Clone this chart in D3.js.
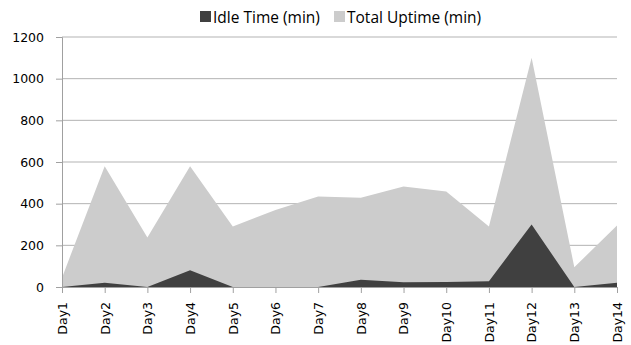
<!DOCTYPE html>
<html>
<head>
<meta charset="utf-8">
<script src="https://cdn.jsdelivr.net/npm/d3@7/dist/d3.min.js"></script>
<style>
  html, body { margin: 0; padding: 0; background: #fff; }
  svg { display: block; }
</style>
</head>
<body>
<svg id="chart" width="631" height="345"></svg>
<script>
// Daily machine data
const days = ["Day1","Day2","Day3","Day4","Day5","Day6","Day7","Day8","Day9","Day10","Day11","Day12","Day13","Day14"];
const totalUptime = [45, 580, 238, 580, 290, 370, 435, 428, 483, 458, 290, 1100, 95, 295];
const idleTime = [0, 20, 0, 80, 0, 0, 0, 35, 23, 24, 28, 300, 0, 20];
const yTicks = [0, 200, 400, 600, 800, 1000, 1200];

const seriesNames = ["Idle Time (min)", "Total Uptime (min)"];
const seriesColors = ["#404040", "#cccccc"];

const svg = d3.select("#chart");
const margin = { left: 62, right: 14, top: 37, bottom: 58 };
const W = 631, H = 345;
const axisFont = "'DejaVu Sans', Verdana, sans-serif";

const x = d3.scalePoint().domain(days).range([margin.left, W - margin.right]);
const y = d3.scaleLinear().domain([0, 1200]).range([H - margin.bottom, margin.top]);

// Horizontal gridlines
svg.append("g")
  .selectAll("line")
  .data(yTicks.filter(d => d > 0))
  .join("line")
  .attr("x1", margin.left).attr("x2", W - margin.right)
  .attr("y1", d => y(d)).attr("y2", d => y(d))
  .attr("stroke", "#b3b3b3").attr("stroke-width", 1);

const area = vals => d3.area()
  .x((d, i) => x(days[i]))
  .y0(y(0))
  .y1(d => y(d))(vals);

// Total uptime behind, idle time in front
svg.append("path").attr("d", area(totalUptime)).attr("fill", seriesColors[1]);
svg.append("path").attr("d", area(idleTime)).attr("fill", seriesColors[0]);

// Y axis
const yAxis = svg.append("g")
  .attr("transform", `translate(${margin.left},0)`)
  .call(d3.axisLeft(y).tickValues(yTicks).tickSize(6).tickPadding(12).tickFormat(d3.format("d")));
yAxis.select(".domain").attr("stroke", "#a0a0a0");
yAxis.selectAll(".tick line").attr("stroke", "#a0a0a0");
yAxis.selectAll("text")
  .attr("font-family", axisFont)
  .attr("font-size", 12.5).attr("fill", "#000");

// X axis
const xAxis = svg.append("g")
  .attr("transform", `translate(0,${y(0)})`)
  .call(d3.axisBottom(x).tickSize(6).tickSizeOuter(0));
xAxis.select(".domain").attr("stroke", "#a0a0a0");
xAxis.selectAll(".tick line").attr("stroke", "#a0a0a0");
xAxis.selectAll("text")
  .attr("font-family", axisFont)
  .attr("font-size", 12.5).attr("fill", "#000")
  .attr("text-anchor", "end")
  .attr("x", 0).attr("y", 0)
  .attr("dx", 0)
  .attr("dy", "0.35em")
  .attr("transform", "translate(0,15) rotate(-90)");

// Legend
const legend = svg.append("g").attr("font-family", "'Open Sans', sans-serif").attr("font-size", 15.5);
const legendX = [200, 334];
seriesNames.forEach((name, i) => {
  const g = legend.append("g").attr("transform", `translate(${legendX[i]},11)`);
  g.append("rect").attr("width", 11).attr("height", 11).attr("fill", seriesColors[i]);
  g.append("text").attr("x", 13).attr("y", 11.5).attr("fill", "#000").text(name);
});
</script>
</body>
</html>
